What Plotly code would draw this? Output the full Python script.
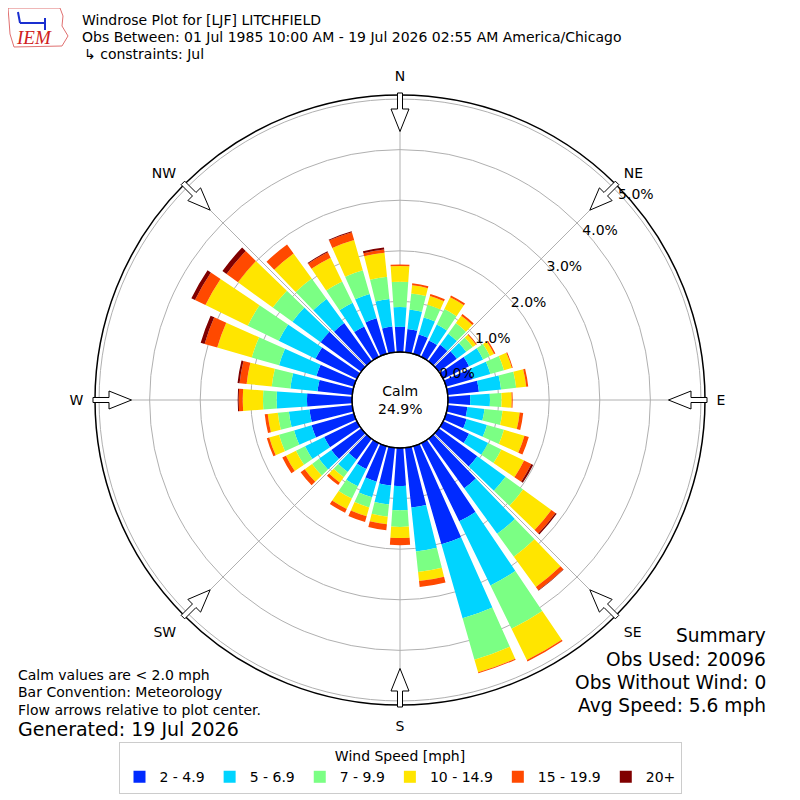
import math
import plotly.graph_objects as go

# direction bins (deg, meteorological: where the wind blows from)
directions = list(range(0, 360, 10))

speed_bins = ["2 - 4.9", "5 - 6.9", "7 - 9.9", "10 - 14.9", "15 - 19.9", "20+"]
bin_colors = ["#002aff", "#00d4ff", "#7bff84", "#ffe500", "#ff4900", "#800000"]

# frequency (% of obs) per direction, one list per speed class
pct_2_5 = [0.50, 0.46, 0.40, 0.36, 0.40, 0.44, 0.57, 0.55, 0.62, 0.44, 0.39, 0.42,
           0.57, 0.94, 1.21, 1.72, 2.02, 1.19, 0.75, 0.75, 0.73, 0.57, 0.51, 0.73,
           0.72, 0.87, 0.85, 0.89, 0.69, 0.77, 0.91, 0.99, 0.93, 0.67, 0.73, 0.51]
pct_5_7 = [0.39, 0.39, 0.35, 0.35, 0.27, 0.23, 0.31, 0.36, 0.44, 0.39, 0.34, 0.42,
           0.42, 0.69, 1.11, 1.41, 1.52, 0.87, 0.48, 0.38, 0.32, 0.38, 0.30, 0.30,
           0.42, 0.36, 0.41, 0.60, 0.54, 0.77, 0.81, 0.69, 0.59, 0.52, 0.50, 0.55]
pct_7_10 = [0.50, 0.32, 0.26, 0.34, 0.26, 0.16, 0.15, 0.28, 0.30, 0.23, 0.36, 0.35,
            0.29, 0.43, 0.56, 0.95, 0.85, 0.41, 0.33, 0.24, 0.21, 0.27, 0.13, 0.17,
            0.20, 0.31, 0.22, 0.27, 0.37, 0.56, 0.68, 0.48, 0.50, 0.47, 0.49, 0.44]
pct_10_15 = [0.31, 0.16, 0.18, 0.26, 0.18, 0.08, 0.09, 0.16, 0.20, 0.20, 0.34, 0.42,
             0.50, 0.69, 0.74, 0.69, 0.26, 0.18, 0.22, 0.15, 0.18, 0.23, 0.13, 0.18,
             0.22, 0.20, 0.20, 0.40, 0.50, 0.71, 0.93, 0.85, 0.61, 0.52, 0.62, 0.48]
pct_15_20 = [0.03, 0.04, 0.04, 0.04, 0.04, 0.02, 0.03, 0.02, 0.04, 0.02, 0.07, 0.09,
             0.16, 0.10, 0.08, 0.03, 0.02, 0.12, 0.14, 0.12, 0.12, 0.08, 0.06, 0.10,
             0.08, 0.05, 0.06, 0.08, 0.14, 0.26, 0.23, 0.28, 0.22, 0.12, 0.16, 0.06]
pct_20_up = [0.00, 0.00, 0.00, 0.00, 0.00, 0.00, 0.00, 0.00, 0.00, 0.00, 0.00, 0.00,
             0.04, 0.03, 0.01, 0.00, 0.00, 0.00, 0.00, 0.00, 0.00, 0.00, 0.00, 0.00,
             0.00, 0.00, 0.00, 0.02, 0.04, 0.08, 0.08, 0.10, 0.00, 0.02, 0.02, 0.04]
series = [pct_2_5, pct_5_7, pct_7_10, pct_10_15, pct_15_20, pct_20_up]

calm_pct = 24.9
rings = [0, 1, 2, 3, 4, 5]
ring_labels = ["0.0%", "1.0%", "2.0%", "3.0%", "4.0%", "5.0%"]
compass = ["N", "NE", "E", "SE", "S", "SW", "W", "NW"]

FONT = "DejaVu Sans"
OFF = 8          # page body margin, figure sits 8px in from the window corner
W = H = 800 - OFF
R_OUT = 305      # px radius of the frame
R_HOLE = 48      # px radius of the calm circle
CX = CY = 400    # plot centre in window pixels


def P(x, y):
    # window pixel (from top-left) -> paper coords
    return (x - OFF) / W, (H - (y - OFF)) / H


fig = go.Figure()
for vals, name, col in zip(series, speed_bins, bin_colors):
    fig.add_trace(go.Barpolar(
        r=vals, theta=directions, width=8, name=name,
        marker=dict(color=col, line=dict(width=0)),
    ))

dx0, dy0 = P(CX - R_OUT, CY + R_OUT)
dx1, dy1 = P(CX + R_OUT, CY - R_OUT)
fig.update_layout(
    width=W, height=H,
    margin=dict(l=0, r=0, t=0, b=0),
    paper_bgcolor="white",
    font=dict(family=FONT, size=14, color="black"),
    polar=dict(
        domain=dict(x=[dx0, dx1], y=[dy0, dy1]),
        hole=R_HOLE / R_OUT,
        bgcolor="white",
        barmode="stack",
        radialaxis=dict(
            range=[0, 5.08], tickvals=rings, ticktext=ring_labels,
            angle=45, side="clockwise", tickangle=45,
            showline=False, ticks="",
            gridcolor="#b0b0b0", gridwidth=1, tickfont=dict(size=14),
        ),
        angularaxis=dict(
            rotation=90, direction="clockwise",
            tickvals=list(range(0, 360, 45)), ticktext=compass,
            ticks="outside", ticklen=8, tickcolor="rgba(0,0,0,0)",
            showline=True, linecolor="black", linewidth=1.5,
            gridcolor="#b0b0b0", gridwidth=1, tickfont=dict(size=14),
        ),
    ),
    legend=dict(
        orientation="h", x=P(400, 0)[0], xanchor="center", y=P(0, 742)[1], yanchor="top",
        title=dict(text="Wind Speed [mph]", side="top center", font=dict(size=14)),
        font=dict(size=14), bordercolor="#cccccc", borderwidth=1, bgcolor="white",
        traceorder="normal", itemwidth=30,
    ),
    showlegend=True,
)

shapes = []
# calm circle outline
cx0, cy0 = P(CX - R_HOLE, CY + R_HOLE)
cx1, cy1 = P(CX + R_HOLE, CY - R_HOLE)
shapes.append(dict(type="circle", xref="paper", yref="paper",
                   x0=cx0, x1=cx1, y0=cy0, y1=cy1,
                   line=dict(color="black", width=1)))

# hollow flow arrows at the 8 compass points, pointing to the centre
for deg in range(0, 360, 45):
    a = math.radians(deg)
    ux, uy = math.sin(a), -math.cos(a)
    vx, vy = math.cos(a), math.sin(a)
    outline = [(307, -2.5), (291, -2.5), (291, -9), (268.5, 0),
               (291, 9), (291, 2.5), (307, 2.5)]
    pts = [P(CX + ux * r + vx * s, CY + uy * r + vy * s) for r, s in outline]
    path = "M " + " L ".join(f"{x:.5f} {y:.5f}" for x, y in pts) + " Z"
    shapes.append(dict(type="path", xref="paper", yref="paper", path=path,
                       fillcolor="white", line=dict(color="black", width=1)))

# IEM logo (rough outline)
logo = [(8, 8), (60, 8), (63, 16), (62, 26), (68, 36), (62, 46), (14, 47), (10, 34), (9, 20)]
lp = [P(x, y) for x, y in logo]
shapes.append(dict(type="path", xref="paper", yref="paper",
                   path="M " + " L ".join(f"{x:.5f} {y:.5f}" for x, y in lp) + " Z",
                   line=dict(color="#e07070", width=1)))
for (xa, ya), (xb, yb) in [((20, 23), (45, 23)), ((45, 18), (45, 30)), ((18, 12), (20, 23))]:
    a0, b0 = P(xa, ya)
    a1, b1 = P(xb, yb)
    shapes.append(dict(type="line", xref="paper", yref="paper",
                       x0=a0, y0=b0, x1=a1, y1=b1,
                       line=dict(color="#1a2fd0", width=2)))
fig.update_layout(shapes=shapes)


def note(text, x, y, size=14, anchor="left", color="black", family=FONT):
    px, py = P(x, y)
    fig.add_annotation(text=text, x=px, y=py, xref="paper", yref="paper",
                       xanchor=anchor, yanchor="middle", showarrow=False,
                       font=dict(size=size, family=family, color=color),
                       align=anchor)


note("<i>IEM</i>", 14, 38, size=19, color="#d02020", family="Liberation Serif")

note("Windrose Plot for [LJF] LITCHFIELD", 80, 20, size=14)
note("Obs Between: 01 Jul 1985 10:00 AM - 19 Jul 2026 02:55 AM America/Chicago", 80, 37, size=14)
note("↳ constraints: Jul", 82, 54, size=14)

note("Calm<br>%.1f%%" % calm_pct, CX, CY, size=14, anchor="center")

note("Calm values are < 2.0 mph", 16, 675, size=14)
note("Bar Convention: Meteorology", 16, 692, size=14)
note("Flow arrows relative to plot center.", 16, 710, size=14)
note("Generated: 19 Jul 2026", 16, 729, size=19)

note("Summary", 768, 635, size=18.6, anchor="right")
note("Obs Used: 20096", 768, 659, size=18.6, anchor="right")
note("Obs Without Wind: 0", 768, 682, size=18.6, anchor="right")
note("Avg Speed: 5.6 mph", 768, 705, size=18.6, anchor="right")

fig.write_html("out.html")
